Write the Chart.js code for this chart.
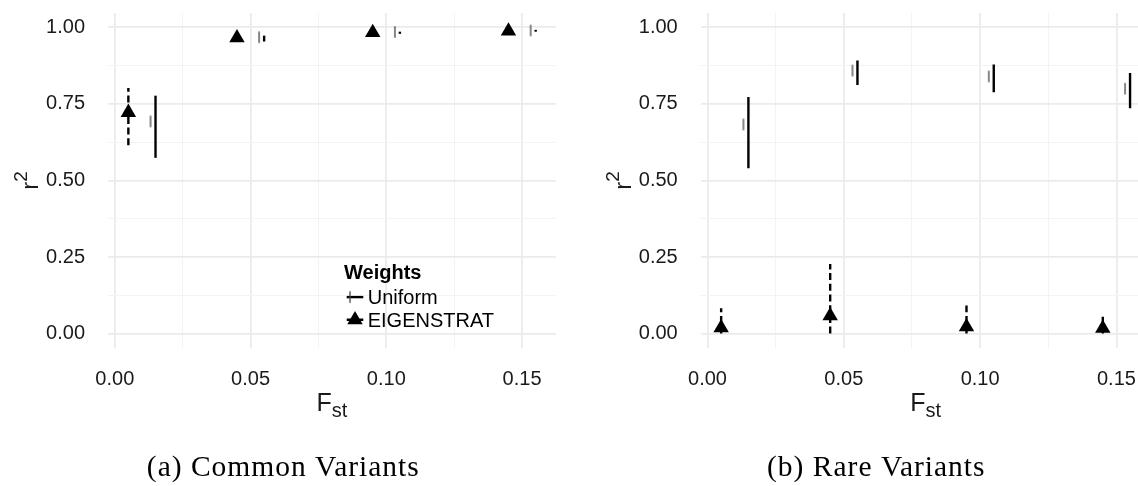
<!DOCTYPE html>
<html>
<head>
<meta charset="utf-8">
<script src="https://cdn.jsdelivr.net/npm/chart.js@4.4.1/dist/chart.umd.min.js"></script>
<style>
  html, body { margin: 0; padding: 0; background: #fff; width: 1138px; height: 486px; overflow: hidden; }
  #wrap { position: relative; width: 1138px; height: 486px; overflow: hidden; }
  canvas { position: absolute; top: 0; }
  #common { left: 0; }
  #rare { left: 570px; }
</style>
</head>
<body>
<div id="wrap">
  <canvas id="common" width="570" height="486"></canvas>
  <canvas id="rare" width="600" height="486"></canvas>
</div>
<script>
// F_st levels; the two weighting schemes are dodged either side of each level
const fstLevels = [0.01, 0.05, 0.10, 0.15];
const weightNames = ['Uniform', 'EIGENSTRAT'];

// Common variants: r^2 point estimate and interval
const commonUniformMean = [0.693, 0.968, 0.985, 0.990];
const commonUniformLow  = [0.574, 0.954, 0.979, 0.986];
const commonUniformHigh = [0.777, 0.973, 0.986, 0.992];
const commonEigenMean   = [0.722, 0.966, 0.983, 0.988];
const commonEigenLow    = [0.615, 0.960, 0.980, 0.985];
const commonEigenHigh   = [0.802, 0.972, 0.986, 0.991];

// Rare variants
const rareUniformMean = [0.683, 0.859, 0.840, 0.800];
const rareUniformLow  = [0.540, 0.812, 0.788, 0.736];
const rareUniformHigh = [0.773, 0.892, 0.879, 0.851];
const rareEigenMean   = [0.019, 0.058, 0.022, 0.017];
const rareEigenLow    = [0.000, 0.000, 0.000, 0.000];
const rareEigenHigh   = [0.083, 0.227, 0.092, 0.055];

// Axis ticks
const xMajorTicks = [0, 0.05, 0.10, 0.15];
const xMinorTicks = [0.025, 0.075, 0.125];
const xTickLabels = ['0.00', '0.05', '0.10', '0.15'];
const yMajorTicks = [0, 0.25, 0.50, 0.75, 1.00];
const yMinorTicks = [0.125, 0.375, 0.625, 0.875];
const yTickLabels = ['0.00', '0.25', '0.50', '0.75', '1.00'];

const captions = ['(a) Common Variants', '(b) Rare Variants'];

// ---- styling ----
const SANS = '"Liberation Sans", Arial, Helvetica, sans-serif';
const SERIF = '"Liberation Serif", "Times New Roman", serif';
const TEXT = '#1a1a1a';
const DODGE = 0.005;
const BAR_WIDTH = 2.4;
const DASH = [7, 3.7];
const TRI_R = 8.9;

// thin vertical tick used as the Uniform point glyph (sits just left of its bar)
function makeTickMark() {
  const c = document.createElement('canvas');
  c.width = 16; c.height = 14;
  const g = c.getContext('2d');
  g.strokeStyle = '#454545';
  g.lineWidth = 1.3;
  g.beginPath();
  g.moveTo(3, 1.3);
  g.lineTo(3, 12.7);
  g.stroke();
  return c;
}
const TICK_MARK = makeTickMark();

function fillTriangle(ctx, x, y, r) {
  const h = r * Math.sqrt(3) / 2;
  ctx.beginPath();
  ctx.moveTo(x, y - r);
  ctx.lineTo(x + h, y + r / 2);
  ctx.lineTo(x - h, y + r / 2);
  ctx.closePath();
  ctx.fill();
}

function series(kind, mean, low, high) {
  const uniform = kind === 'Uniform';
  const shift = uniform ? DODGE : -DODGE;
  return {
    label: kind,
    data: fstLevels.map((f, i) => ({ x: f + shift, y: mean[i] })),
    errLow: low,
    errHigh: high,
    errDash: uniform ? [] : DASH,
    pointStyle: uniform ? TICK_MARK : 'triangle',
    pointRadius: uniform ? 6 : TRI_R,
    backgroundColor: '#000',
    borderColor: '#000',
    borderWidth: 0
  };
}

// vertical interval bars, drawn beneath the points
const errorBars = {
  id: 'errorBars',
  beforeDatasetsDraw(chart) {
    const { ctx, chartArea: a, scales: { x, y } } = chart;
    ctx.save();
    ctx.beginPath();
    ctx.rect(a.left, a.top, a.right - a.left, a.bottom - a.top);
    ctx.clip();
    ctx.strokeStyle = '#000';
    ctx.lineWidth = BAR_WIDTH;
    ctx.lineCap = 'butt';
    chart.data.datasets.forEach(ds => {
      ctx.setLineDash(ds.errDash);
      ds.data.forEach((p, i) => {
        const px = x.getPixelForValue(p.x);
        ctx.beginPath();
        ctx.moveTo(px, y.getPixelForValue(ds.errLow[i]));
        ctx.lineTo(px, y.getPixelForValue(ds.errHigh[i]));
        ctx.stroke();
      });
    });
    ctx.restore();
  }
};

// axis titles with sub/superscripts, the inset legend and the panel caption
const decorations = {
  id: 'decorations',
  afterDraw(chart, _args, o) {
    const { ctx, chartArea: a } = chart;
    ctx.save();
    ctx.fillStyle = TEXT;
    ctx.textAlign = 'left';
    ctx.textBaseline = 'alphabetic';

    // x title: F_st
    ctx.font = `25px ${SANS}`;
    const wF = ctx.measureText('F').width;
    ctx.font = `20px ${SANS}`;
    const wS = ctx.measureText('st').width;
    const x0 = (a.left + a.right) / 2 - (wF + wS) / 2;
    const base = a.bottom + 62.7;
    ctx.font = `25px ${SANS}`;
    ctx.fillText('F', x0, base);
    ctx.font = `20px ${SANS}`;
    ctx.fillText('st', x0 + wF, base + 6);

    // y title: r^2, rotated
    ctx.save();
    ctx.translate(a.left - 69.7, (a.top + a.bottom) / 2);
    ctx.rotate(-Math.PI / 2);
    ctx.font = `24px ${SANS}`;
    const wr = ctx.measureText('r').width;
    ctx.font = `19px ${SANS}`;
    const w2 = ctx.measureText('2').width;
    const s0 = -(wr + w2) / 2;
    ctx.font = `24px ${SANS}`;
    ctx.fillText('r', s0, 0);
    ctx.font = `19px ${SANS}`;
    ctx.fillText('2', s0 + wr, -11.6);
    ctx.restore();

    // legend
    if (o.legend) {
      const lg = o.legend;
      ctx.fillStyle = '#000';
      ctx.font = `bold 20px ${SANS}`;
      ctx.fillText('Weights', lg.x, lg.titleBase);
      ctx.font = `20px ${SANS}`;
      weightNames.forEach((name, i) => ctx.fillText(name, lg.textX, lg.rows[i]));
      const k0 = lg.rows[0] - 7.2;
      const k1 = lg.rows[1] - 7.2;
      ctx.strokeStyle = '#000';
      ctx.lineWidth = BAR_WIDTH;
      ctx.beginPath();
      ctx.moveTo(lg.keyX - 8.3, k0);
      ctx.lineTo(lg.keyX + 8.3, k0);
      ctx.stroke();
      ctx.drawImage(TICK_MARK, lg.keyX - TICK_MARK.width / 2, k0 - TICK_MARK.height / 2);
      ctx.setLineDash(DASH);
      ctx.beginPath();
      ctx.moveTo(lg.keyX - 8.3, k1);
      ctx.lineTo(lg.keyX + 8.3, k1);
      ctx.stroke();
      ctx.setLineDash([]);
      fillTriangle(ctx, lg.keyX, k1, TRI_R);
    }

    // caption
    ctx.fillStyle = '#000';
    ctx.font = `29.5px ${SERIF}`;
    ctx.letterSpacing = '1px';
    ctx.textAlign = 'center';
    ctx.fillText(o.caption, o.captionX, 476);
    ctx.restore();
  }
};

function tickList(major, minor) {
  return major.map(v => ({ value: v }))
    .concat(minor.map(v => ({ value: v, minor: true })))
    .sort((p, q) => p.value - q.value);
}

const gridStyle = {
  color: c => (c.tick && c.tick.minor) ? '#f3f3f3' : '#ebebeb',
  lineWidth: c => (c.tick && c.tick.minor) ? 1 : 1.8,
  drawTicks: false
};

function buildChart(id, datasets, panel) {
  return new Chart(document.getElementById(id), {
    type: 'scatter',
    data: { datasets },
    options: {
      responsive: false,
      animation: false,
      devicePixelRatio: 1,
      events: [],
      layout: { padding: { left: panel.padLeft, right: panel.padRight, top: 13, bottom: 0 } },
      plugins: {
        legend: { display: false },
        tooltip: { enabled: false },
        decorations: { caption: panel.caption, captionX: panel.captionX, legend: panel.legend }
      },
      scales: {
        x: {
          type: 'linear',
          min: -0.0025,
          max: 0.1625,
          border: { display: false },
          grid: gridStyle,
          afterBuildTicks: s => { s.ticks = tickList(xMajorTicks, xMinorTicks); },
          afterFit: s => { s.height = 138; s.paddingLeft = 0; s.paddingRight = 0; },
          ticks: {
            autoSkip: false,
            maxRotation: 0,
            padding: 19,
            color: TEXT,
            font: { family: SANS, size: 20 },
            callback: (v, i, t) => t[i].minor ? '' : xTickLabels[xMajorTicks.indexOf(v)]
          }
        },
        y: {
          type: 'linear',
          min: -0.047,
          max: 1.047,
          border: { display: false },
          grid: gridStyle,
          afterBuildTicks: s => { s.ticks = tickList(yMajorTicks, yMinorTicks); },
          afterFit: s => { s.width = 108; s.paddingTop = 0; s.paddingBottom = 0; },
          ticks: {
            autoSkip: false,
            padding: 23,
            color: TEXT,
            font: { family: SANS, size: 20 },
            callback: (v, i, t) => t[i].minor ? '' : yTickLabels[yMajorTicks.indexOf(v)]
          }
        }
      }
    },
    plugins: [errorBars, decorations]
  });
}

buildChart('common', [
  series('Uniform', commonUniformMean, commonUniformLow, commonUniformHigh),
  series('EIGENSTRAT', commonEigenMean, commonEigenLow, commonEigenHigh)
], {
  padLeft: 0, padRight: 14, caption: captions[0], captionX: 283.3,
  legend: { x: 344, titleBase: 279.3, textX: 367.7, rows: [304.3, 327], keyX: 355 }
});

buildChart('rare', [
  series('Uniform', rareUniformMean, rareUniformLow, rareUniformHigh),
  series('EIGENSTRAT', rareEigenMean, rareEigenLow, rareEigenHigh)
], {
  padLeft: 22.7, padRight: 19.5, caption: captions[1], captionX: 306.3, legend: null
});
</script>
</body>
</html>
